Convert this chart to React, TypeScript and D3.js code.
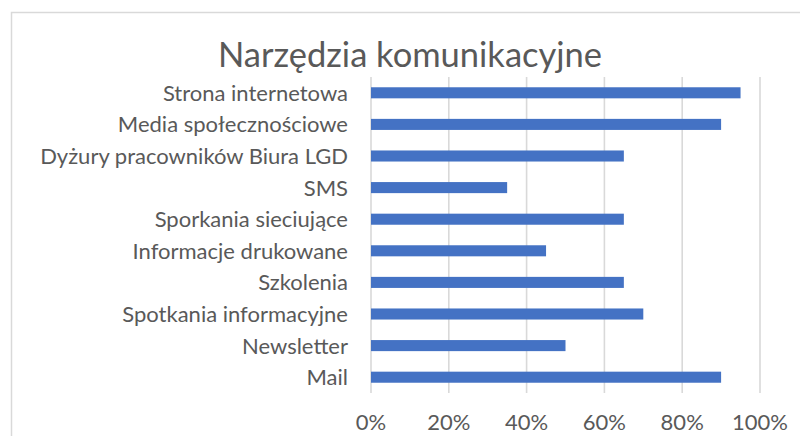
import React from "react";
import * as d3 from "d3";

const categories: string[] = [
  "Strona internetowa",
  "Media społecznościowe",
  "Dyżury pracowników Biura LGD",
  "SMS",
  "Sporkania sieciujące",
  "Informacje drukowane",
  "Szkolenia",
  "Spotkania informacyjne",
  "Newsletter",
  "Mail",
];
const values: number[] = [0.95, 0.9, 0.65, 0.35, 0.65, 0.45, 0.65, 0.7, 0.5, 0.9];
const tickValues: number[] = [0, 0.2, 0.4, 0.6, 0.8, 1.0];
const title = "Narzędzia komunikacyjne";

const W = 800;
const H = 436;
const FONT = "Lato, 'Open Sans', sans-serif";
const TEXT = "#595959";

export default function App() {
  const x = d3.scaleLinear().domain([0, 1]).range([371, 760]);
  const y = d3
    .scaleBand<string>()
    .domain(categories)
    .range([77, 393])
    .paddingInner(0.65)
    .paddingOuter(0.325);
  const fmt = d3.format(".0%");

  return (
    <svg
      width={W}
      height={H}
      style={{ position: "absolute", left: 0, top: 0, background: "#fff" }}
    >
      <rect x={11.5} y={12.5} width={W} height={H} fill="#fff" stroke="#d9d9d9" strokeWidth={1.5} />
      <text x={410} y={67} textAnchor="middle" fontFamily={FONT} fontSize={34.5} fill={TEXT}>
        {title}
      </text>
      {tickValues.map((t) => (
        <line key={"g" + t} x1={x(t)} x2={x(t)} y1={77} y2={393} stroke="#d9d9d9" strokeWidth={1.6} />
      ))}
      {categories.map((c, i) => (
        <rect
          key={c}
          x={x(0)}
          y={y(c)}
          width={x(values[i]) - x(0)}
          height={y.bandwidth()}
          fill="#4472C4"
        />
      ))}
      {categories.map((c) => (
        <text
          key={"l" + c}
          x={348}
          y={(y(c) as number) + y.bandwidth() / 2}
          dy="0.36em"
          textAnchor="end"
          fontFamily={FONT}
          fontSize={22}
          fill={TEXT}
        >
          {c}
        </text>
      ))}
      {tickValues.map((t) => (
        <text
          key={"t" + t}
          x={x(t)}
          y={430}
          textAnchor="middle"
          fontFamily={FONT}
          fontSize={22}
          fill={TEXT}
        >
          {fmt(t)}
        </text>
      ))}
    </svg>
  );
}
